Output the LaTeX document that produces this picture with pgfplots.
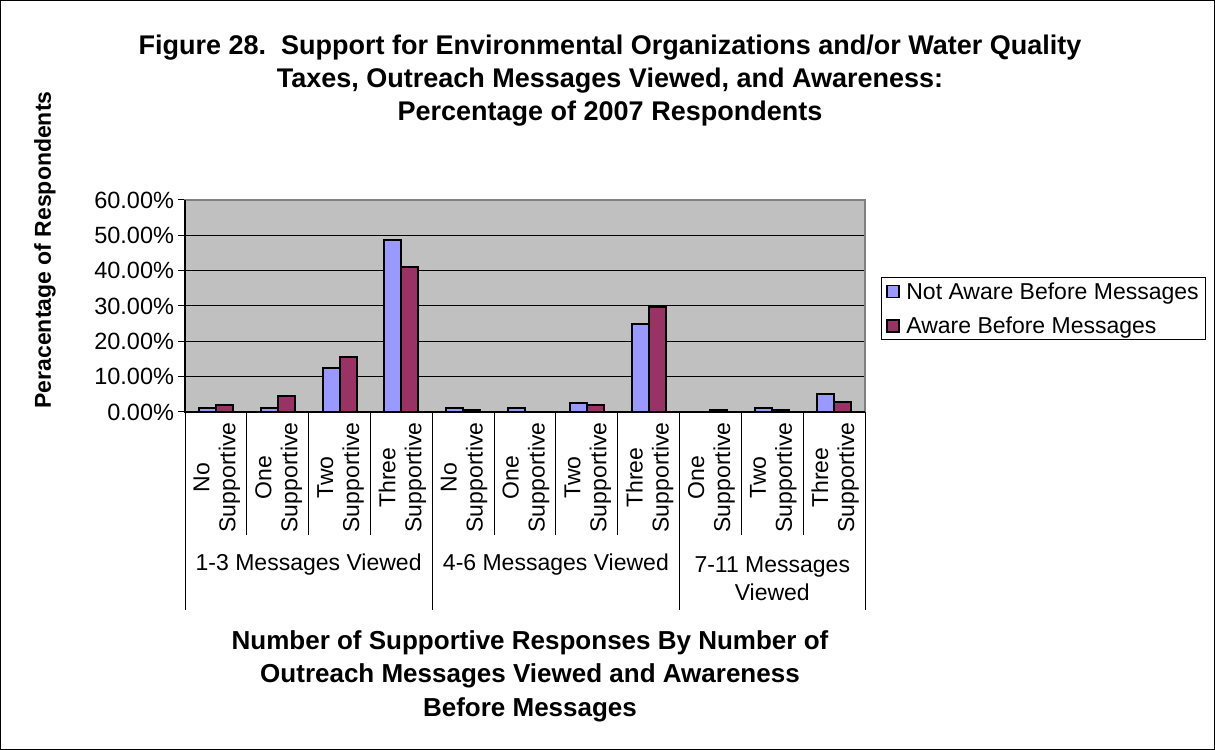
\documentclass[border=0pt]{standalone}
\usepackage{pgfplots}
\pgfplotsset{compat=1.18}
\usepackage{fontspec}
\setmainfont{Liberation Sans}

\definecolor{notaware}{HTML}{9999FF}
\definecolor{aware}{HTML}{993366}
\definecolor{plotbg}{HTML}{C0C0C0}
\definecolor{frame}{HTML}{808080}

\newcommand{\reg}{\fontsize{23bp}{28bp}\selectfont}
\newcommand{\titlefont}{\fontsize{27bp}{33bp}\selectfont\bfseries}
\newcommand{\xtitlefont}{\fontsize{26bp}{33.5bp}\selectfont\bfseries}

\begin{document}
\begin{tikzpicture}[x=1bp,y=1bp]
  \path[use as bounding box] (0,0) rectangle (1215,750);
  \draw[black, line width=1bp] (0.5,0.5) rectangle (1214.5,749.5);

  % chart title
  \node[align=center, font=\titlefont] at (610,669)
    {Figure 28.\ \ Support for Environmental Organizations and/or Water Quality\\
     Taxes, Outreach Messages Viewed, and Awareness:\\
     Percentage of 2007 Respondents};

  % y axis title
  \node[rotate=90, font=\fontsize{23bp}{26bp}\selectfont\bfseries] at (45,500)
    {Peracentage of Respondents};

  % x axis title
  \node[align=center, font=\xtitlefont] at (530,74)
    {Number of Supportive Responses By Number of\\
     Outreach Messages Viewed and Awareness\\
     Before Messages};

  \begin{axis}[
    at={(185bp,338bp)}, anchor=south west,
    scale only axis, width=680bp, height=212bp,
    xmin=-0.5, xmax=10.5, ymin=0, ymax=60,
    axis background/.style={fill=plotbg},
    axis line style={draw=frame, line width=1.2bp},
    ybar=0pt, bar width=17bp,
    ytick={0,10,20,30,40,50,60},
    ytick pos=left,
    yticklabel={\pgfmathprintnumber[fixed,fixed zerofill,precision=2]{\tick}\%},
    /pgf/number format/assume math mode=true,
    yticklabel style={font=\fontsize{23.5bp}{28bp}\selectfont, xshift=-0.5bp},
    ytick style={draw=black, line width=1bp},
    major tick length=7bp,
    tick align=outside,
    ymajorgrids,
    grid style={black, line width=1bp},
    xtick={0,...,10},
    xticklabels={
      {No\\Supportive},{One\\Supportive},{Two\\Supportive},{Three\\Supportive},
      {No\\Supportive},{One\\Supportive},{Two\\Supportive},{Three\\Supportive},
      {One\\Supportive},{Two\\Supportive},{Three\\Supportive}},
    xticklabel style={font=\fontsize{23bp}{26bp}\selectfont, rotate=90, anchor=east, align=center, yshift=-1bp},
    x tick style={draw=none},
    clip=false,
    legend style={at={(1.0235,0.637)}, anchor=north west, draw=black,
      line width=1bp, font=\reg, row sep=12bp, inner xsep=5bp, inner ysep=3bp,
      legend cell align=left},
    legend image code/.code={
      \draw[#1, draw=black, line width=1.8bp] (0bp,-6bp) rectangle (12bp,6bp);
      \path (16bp,0bp);},
  ]
    \addplot[fill=notaware, draw=black, line width=2bp] coordinates {
      (0,1.1) (1,1.1) (2,12.5) (3,48.6)
      (4,1.2) (5,1.2) (6,2.6) (7,24.9)
      (8,0) (9,1.1) (10,5.1)};
    \addplot[fill=aware, draw=black, line width=2bp] coordinates {
      (0,2.0) (1,4.6) (2,15.5) (3,40.9)
      (4,0.6) (5,0) (6,2.1) (7,29.7)
      (8,0.6) (9,0.7) (10,2.8)};
    \legend{Not Aware Before Messages, Aware Before Messages}

    % left and bottom axes in black
    \draw[black, line width=1.2bp] (axis cs:-0.5,60) -- (axis cs:-0.5,0) -- (axis cs:10.5,0);
    % category separators
    \pgfplotsinvokeforeach{0.5,1.5,2.5,4.5,5.5,6.5,8.5,9.5}{
      \draw[black, line width=1bp] (axis cs:#1,0) -- ++(0bp,-123bp);}
    % group separators
    \pgfplotsinvokeforeach{-0.5,3.5,7.5,10.5}{
      \draw[black, line width=1bp] (axis cs:#1,0) -- ++(0bp,-198bp);}
    % group labels
    \node[font=\reg] at ([yshift=-153bp]axis cs:1.5,0) {1-3 Messages Viewed};
    \node[font=\reg] at ([yshift=-153bp]axis cs:5.5,0) {4-6 Messages Viewed};
    \node[font=\reg, align=center] at ([yshift=-167bp]axis cs:9,0) {7-11 Messages\\Viewed};
  \end{axis}
\end{tikzpicture}
\end{document}
